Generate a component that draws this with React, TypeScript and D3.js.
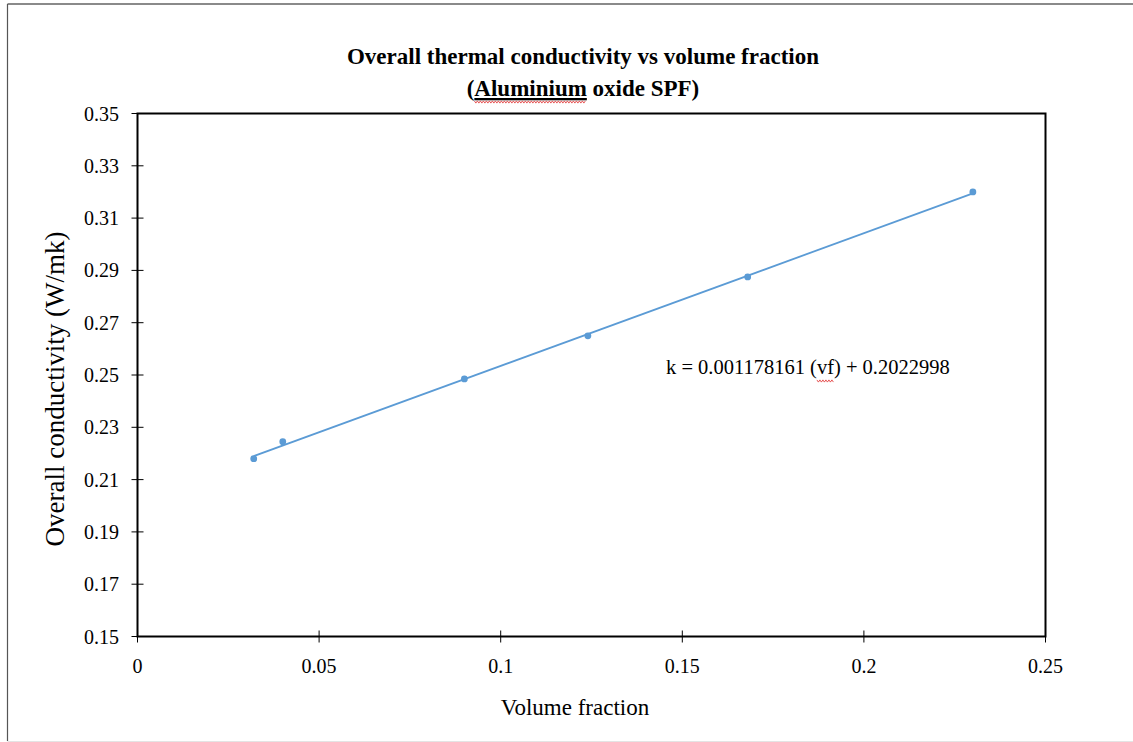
import React, { useLayoutEffect, useRef, useState } from "react";
import * as d3 from "d3";

// Measured samples: volume fraction vs overall conductivity (W/mK)
const volumeFraction = [0.032, 0.04, 0.09, 0.124, 0.168, 0.23];
const conductivity = [0.218, 0.2245, 0.2485, 0.265, 0.2875, 0.32];

const xTicks = [0, 0.05, 0.1, 0.15, 0.2, 0.25];
const yTicks = [0.15, 0.17, 0.19, 0.21, 0.23, 0.25, 0.27, 0.29, 0.31, 0.33, 0.35];

const titleLine1 = "Overall thermal conductivity vs volume fraction";
const titleLine2 = ["(", "Aluminium", " oxide SPF)"];
const xLabel = "Volume fraction";
const yLabel = "Overall conductivity (W/mk)";
const equationParts = ["k = 0.001178161 (", "vf", ") + 0.2022998"];

const W = 1133;
const H = 742;
const M = { left: 137.5, right: 1045.5, top: 113.5, bottom: 636.5 };
const FONT = "'Liberation Serif', 'Times New Roman', serif";
const BLUE = "#5B9BD5";

function wavy(x0: number, x1: number, y: number) {
  const pts: [number, number][] = [];
  for (let x = x0, i = 0; x <= x1; x += 1.5, i++) pts.push([x, y + (i % 2 ? 1.1 : -1.1)]);
  return d3.line()(pts) || "";
}

type Span = { x0: number; x1: number } | null;

export default function App() {
  const x = d3.scaleLinear().domain([0, 0.25]).range([M.left, M.right]);
  const y = d3.scaleLinear().domain([0.15, 0.35]).range([M.bottom, M.top]);

  // spell-check squiggles follow the measured word extents
  const wordRef = useRef<SVGTSpanElement>(null);
  const vfRef = useRef<SVGTSpanElement>(null);
  const [wordSpan, setWordSpan] = useState<Span>(null);
  const [vfSpan, setVfSpan] = useState<Span>(null);
  useLayoutEffect(() => {
    const measure = (el: SVGTSpanElement | null): Span => {
      if (!el) return null;
      const b = el.getBBox();
      return { x0: b.x, x1: b.x + b.width };
    };
    setWordSpan(measure(wordRef.current));
    setVfSpan(measure(vfRef.current));
  }, []);

  // least-squares linear trendline
  const mx = d3.mean(volumeFraction)!;
  const my = d3.mean(conductivity)!;
  let sxy = 0, sxx = 0;
  volumeFraction.forEach((v, i) => {
    sxy += (v - mx) * (conductivity[i] - my);
    sxx += (v - mx) * (v - mx);
  });
  const slope = sxy / sxx;
  const intercept = my - slope * mx;
  const trend = d3.line<number>()
    .x((v) => x(v))
    .y((v) => y(intercept + slope * v))(d3.extent(volumeFraction) as number[]) || "";

  return (
    <svg width={W} height={H} style={{ position: "absolute", left: 0, top: 0, background: "#fff" }}>
      {/* outer frame */}
      <line x1={7.5} y1={4} x2={W} y2={4} stroke="#8a8a8a" strokeWidth={2} />
      <line x1={7.5} y1={4} x2={7.5} y2={741} stroke="#555" strokeWidth={1.2} />
      <line x1={7.5} y1={741.5} x2={W} y2={741.5} stroke="#e4e4e4" strokeWidth={1} />

      {/* title */}
      <g fontFamily={FONT} fontWeight="bold" fontSize={23} textAnchor="middle" fill="#000">
        <text x={583} y={64}>{titleLine1}</text>
        <text x={583} y={96}>
          {titleLine2[0]}
          <tspan ref={wordRef} textDecoration="underline">{titleLine2[1]}</tspan>
          {titleLine2[2]}
        </text>
      </g>
      {wordSpan && (
        <path d={wavy(wordSpan.x0, wordSpan.x1, 102)} stroke="#e03030" strokeWidth={0.8} fill="none" />
      )}

      {/* plot box */}
      <rect x={M.left} y={M.top} width={M.right - M.left} height={M.bottom - M.top}
        fill="none" stroke="#000" strokeWidth={2} />

      {/* ticks and tick labels */}
      <g fontFamily={FONT} fontSize={20} fill="#000">
        {yTicks.map((t) => (
          <g key={t}>
            <line x1={M.left - 6} x2={M.left + 6} y1={y(t)} y2={y(t)} stroke="#000" strokeWidth={1} />
            <text x={119} y={y(t)} dy="0.35em" textAnchor="end">{d3.format(".2f")(t)}</text>
          </g>
        ))}
        {xTicks.map((t) => (
          <g key={t}>
            <line x1={x(t)} x2={x(t)} y1={M.bottom - 6} y2={M.bottom + 6} stroke="#000" strokeWidth={1} />
            <text x={x(t)} y={673} textAnchor="middle">{String(t)}</text>
          </g>
        ))}
      </g>

      {/* axis titles */}
      <text x={575} y={715} fontFamily={FONT} fontSize={23} textAnchor="middle">{xLabel}</text>
      <text transform={`translate(64, 389) rotate(-90)`} fontFamily={FONT} fontSize={27}
        textAnchor="middle">{yLabel}</text>

      {/* trendline and points */}
      <path d={trend} fill="none" stroke={BLUE} strokeWidth={1.8} />
      {volumeFraction.map((v, i) => (
        <circle key={i} cx={x(v)} cy={y(conductivity[i])} r={3.4} fill={BLUE} />
      ))}

      {/* regression equation */}
      <text x={666} y={374} fontFamily={FONT} fontSize={20.5}>
        {equationParts[0]}
        <tspan ref={vfRef}>{equationParts[1]}</tspan>
        {equationParts[2]}
      </text>
      {vfSpan && (
        <path d={wavy(vfSpan.x0, vfSpan.x1, 381)} stroke="#e03030" strokeWidth={0.8} fill="none" />
      )}
    </svg>
  );
}
